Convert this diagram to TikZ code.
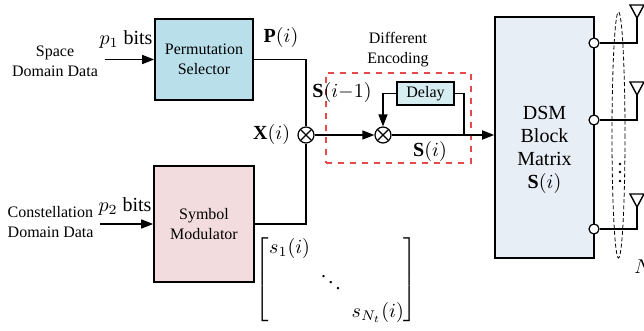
\documentclass[tikz,border=0pt]{standalone}
\usepackage{amsmath}
\usepackage{fontspec}
\setmainfont{Liberation Serif}
\usetikzlibrary{arrows.meta, positioning, calc}
\definecolor{permblue}{RGB}{185,223,235}
\definecolor{sympink}{RGB}{242,220,221}
\definecolor{dsmgray}{RGB}{232,238,246}
\definecolor{delaycyan}{RGB}{214,237,242}
\definecolor{encred}{RGB}{232,72,72}
\tikzstyle{block} = [rectangle, draw=black, line width=0.8pt, align=center, inner sep=0pt, font=\fontsize{8}{10}\selectfont]
\tikzstyle{small} = [align=center, inner sep=0pt, font=\fontsize{8}{10}\selectfont]
\tikzstyle{mult} = [circle, draw=black, line width=0.6pt, minimum size=8pt, inner sep=0pt,
  path picture={\draw[line width=0.6pt] (path picture bounding box.north west) -- (path picture bounding box.south east)
  (path picture bounding box.north east) -- (path picture bounding box.south west);}]
\tikzstyle{port} = [circle, draw=black, fill=white, line width=0.6pt, minimum size=5pt, inner sep=0pt]
\tikzstyle{arr} = [-{Triangle[length=6pt,width=4.5pt]}, line width=0.7pt]

\begin{document}
\begin{tikzpicture}[x=0.5pt, y=-0.5pt, font=\fontsize{10}{12}\selectfont, line width=0.7pt]
\useasboundingbox (0,0) rectangle (644,331);
% inputs
\node (perm) [block, fill=permblue, minimum width=49pt, minimum height=40.5pt] at (204,59.5) {Permutation\\Selector};
\node (sym) [block, fill=sympink, minimum width=50pt, minimum height=58pt] at (204,224) {Symbol\\Modulator};
\node (space) [small] at (55,61) {Space\\Domain Data};
\node (const) [small, align=left, anchor=west] at (7,222) {Constellation\\Domain Data};
\node (p1) at (126,40) {$p_1$ bits};
\node (p2) at (125,207) {$p_2$ bits};
\draw[arr] ([xshift=3pt]space.east |- perm.west) -- (perm.west);
\draw[arr] ([xshift=3pt]const.east |- sym.west) -- (sym.west);

% combining
\node (mult1) [mult] at (306,135) {};
\node (Plab) at (281,38) {$\mathbf{P}(i)$};
\node (Xlab) [left=0pt of mult1] {$\mathbf{X}(i)$};
\draw (perm.east) -| (mult1.north);
\draw (sym.east) -| (mult1.south);
\node (smat) [inner sep=0pt] at (336.5,280) {$\setlength\arraycolsep{2.5pt}\renewcommand\arraystretch{1.1}\begin{bmatrix} s_1(i) & & \\ & \ddots & \\ & & s_{N_t}(i) \end{bmatrix}$};

% differential encoding
\node (enc) [draw=encred, dashed, line width=0.6pt, minimum width=72.5pt, minimum height=45pt, inner sep=0pt] at (398.5,118) {};
\node (enclab) [small] at (398,50) {Different\\Encoding};
\node (mult2) [mult] at (383,135) {};
\node (delay) [block, fill=delaycyan, minimum width=28.5pt, minimum height=11.5pt] at (425.5,93.5) {Delay};
\node (Sprev) at (342,93) {$\mathbf{S}(i{-}1)$};
\node (Scur) at (430,152) {$\mathbf{S}(i)$};
\coordinate (tap) at (464,135);
\draw[arr] (mult1.east) -- (mult2.west);
\draw (tap) |- (delay.east);
\draw[arr] (delay.west) -| (mult2.north);

% DSM block and antennas
\node (dsm) [block, fill=dsmgray, minimum width=49.5pt, minimum height=120.5pt] at (544.5,137.5) {};
\node (dsmtext) [align=center, font=\fontsize{10}{11.5}\selectfont] at ([yshift=-6pt]dsm.center) {DSM\\Block\\Matrix\\$\mathbf{S}(i)$};
\draw[arr, line width=0.9pt] (mult2.east) -- (mult2.east -| dsm.west);
\foreach \y/\t [count=\k] in {43/18,120/95,229/207} {
  \node (port\k) [port] at (594,\y) {};
  \coordinate (ant\k) at (637,\t);
  \draw (port\k.east) -| (ant\k);
  \draw (ant\k) -- ++(-7,-13) -- ++(14,0) -- cycle;
}
\draw[dashed, line width=0.4pt, dash pattern=on 2pt off 1.2pt] (618.5,135) ellipse [x radius=6.5, y radius=123];
\foreach \y in {164,172,181} \fill (620,\y) circle [radius=1.4];
\node (nt) [anchor=west] at (627,268) {$N_T$};
\end{tikzpicture}
\end{document}
